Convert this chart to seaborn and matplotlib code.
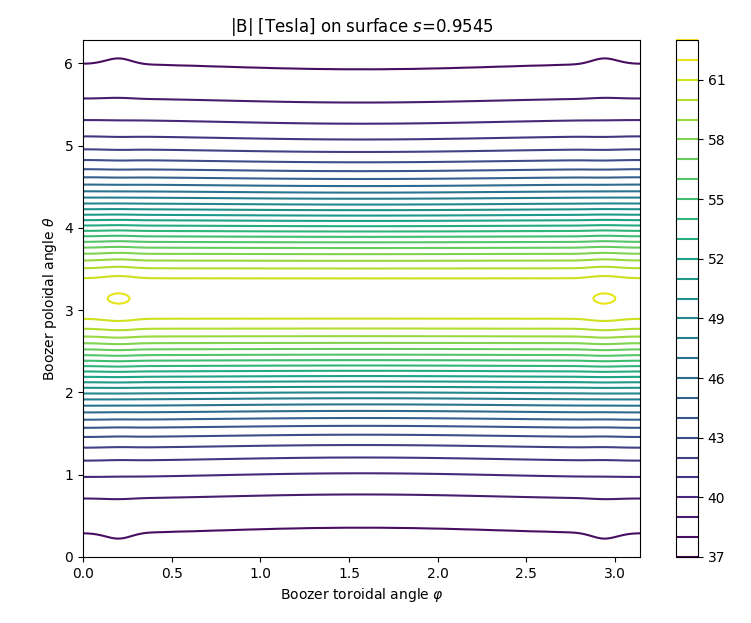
import numpy as np
import matplotlib
matplotlib.use("Agg")
import matplotlib.pyplot as plt
import seaborn as sns

# |B| on the Boozer surface s = 0.9545 (2 field periods -> phi in [0, pi])
# poloidal profile in the middle of the period: B0(theta) = sum b_m cos(m theta)
base_m = [0, 1, 2, 3, 4]
base_b = [46.77, -11.469, 3.000, -0.606, 0.004]

# broad toroidal modulation (lines sit a bit lower near phi = 0 and pi)
broad_n = [0, 2]
broad_a = [0.5, 0.5]
broad_m = [0, 1, 2]
broad_s = [0.1375, 0.0427, -0.0948]

# narrow bumps near phi ~ 0.2 and ~ 2.94 (dips of the outer lines, small islands)
bump_n = [0, 2, 4, 6, 8, 10, 12, 14, 16, 18, 20, 22, 24, 26, 28, 30, 32]
bump_a = [0.1197, 0.2180, 0.1594, 0.0784, -0.0058, -0.0752, -0.1177, -0.1300,
          -0.1163, -0.0863, -0.0508, -0.0189, 0.0041, 0.0168, 0.0205, 0.0183, 0.0133]
bump_m = [0, 1, 2]
bump_s = [0.0587, -0.055, 0.0963]

levels = np.arange(37, 64)
cbar_ticks = np.arange(37, 62, 3)

phi = np.linspace(0, np.pi, 300)
theta = np.linspace(0, 2 * np.pi, 600)


def cos_series(x, modes, amps):
    return sum(a * np.cos(k * x) for k, a in zip(modes, amps))


B = (cos_series(theta, base_m, base_b)[:, None]
     + np.outer(cos_series(theta, broad_m, broad_s), cos_series(phi, broad_n, broad_a))
     + np.outer(cos_series(theta, bump_m, bump_s), cos_series(phi, bump_n, bump_a)))

sns.set_style("ticks", {"axes.edgecolor": "black", "xtick.color": "black",
                        "ytick.color": "black", "text.color": "black",
                        "axes.labelcolor": "black"})
plt.rcParams["font.family"] = ["DejaVu Sans"]
plt.rcParams["xtick.major.size"] = 3.5
plt.rcParams["ytick.major.size"] = 3.5

cmap = sns.color_palette("viridis", as_cmap=True)

fig = plt.figure(figsize=(7.51, 6.23), dpi=100)
ax = fig.add_axes([83 / 751, 66 / 623, 557 / 751, 517 / 623])
cax = fig.add_axes([676 / 751, 66 / 623, 22 / 751, 517 / 623])

cs = ax.contour(phi, theta, B, levels=levels, cmap=cmap, linewidths=1.5)
cb = fig.colorbar(cs, cax=cax, ticks=cbar_ticks)

ax.set_xlim(0, np.pi)
ax.set_ylim(0, 2 * np.pi)
ax.set_xticks(np.arange(0, 3.01, 0.5))
ax.set_yticks(np.arange(0, 7))
ax.set_title("|B| [Tesla] on surface $s$=0.9545", fontsize=12)
ax.set_xlabel(r"Boozer toroidal angle $\varphi$")
ax.set_ylabel(r"Boozer poloidal angle $\theta$")

fig.savefig("out.png", dpi=100)
